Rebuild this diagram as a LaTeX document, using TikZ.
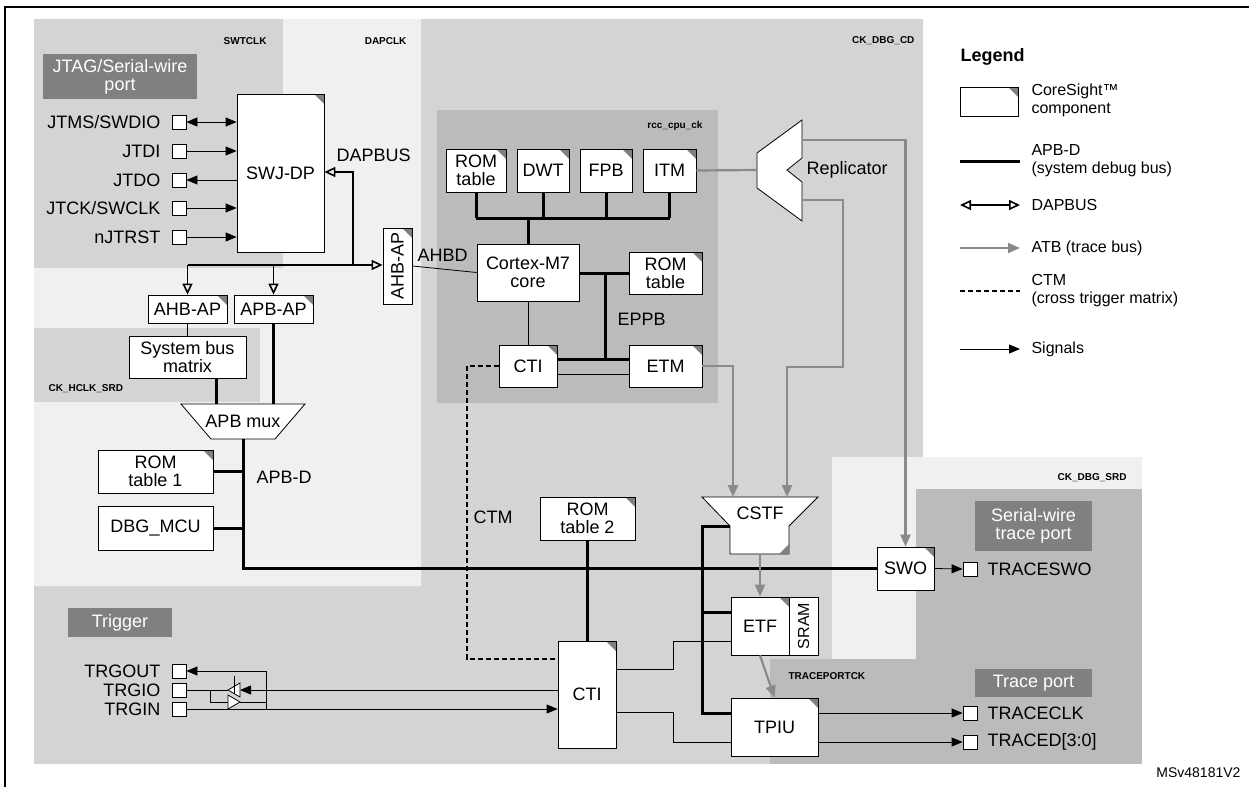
\documentclass[tikz,border=0pt]{standalone}
\usepackage{fontspec}
\setmainfont{Liberation Sans}
\usetikzlibrary{positioning, arrows.meta}
\definecolor{bgmid}{HTML}{D4D4D4}
\definecolor{bglight}{HTML}{F0F0F0}
\definecolor{bgdark}{HTML}{BBBBBB}
\definecolor{tagfill}{HTML}{808080}
\definecolor{atbgrey}{HTML}{8A8A8A}

\tikzset{
    cs/.style={draw, fill=white, thick, inner sep=0pt, align=center,
        path picture={\fill[gray] (path picture bounding box.north east) -- ++(-10pt,0pt) -- ++(10pt,-10pt) -- cycle;}},
    plain/.style={draw, fill=white, thick, inner sep=0pt, align=center},
    tag/.style={fill=tagfill, text=white, inner sep=0pt, align=center},
    port/.style={draw, fill=white, thick, minimum size=14pt, inner sep=0pt},
    clk/.style={font=\bfseries},
    apb/.style={line width=3pt},
    dap/.style={line width=1.6pt, -{Triangle[open, length=11pt, width=10pt]}},
    atb/.style={atbgrey, line width=2.2pt, -{Triangle[length=12pt, width=10pt]}},
    sig/.style={thick, -{Triangle[length=11pt, width=9pt]}},
    ctm/.style={line width=2.2pt, dash pattern=on 5pt off 3pt},
}

\begin{document}
\begin{tikzpicture}[x=1pt, y=-1pt, font=\fontsize{18}{18}\selectfont]
    \useasboundingbox (0,0) rectangle (1249,787);

    % clock domains
    \fill[bgmid] (421,19) -- (923,19) -- (923,457) -- (832,457) -- (832,659) -- (770,659)
        -- (770,764) -- (34,764) -- (34,586) -- (421,586) -- cycle;
    \fill[bgmid] (34,19) rectangle (283,268);
    \fill[bglight] (283,19) -- (421,19) -- (421,586) -- (34,586) -- (34,268) -- (283,268) -- cycle;
    \fill[bgmid] (34,328) rectangle (260,402);
    \fill[bgdark] (437,110) rectangle (718,403);
    \fill[bglight] (832,457) rectangle (1142,659);
    \fill[bgdark] (916,489) rectangle (1142,764);
    \fill[bgdark] (770,659) rectangle (1142,764);

    % frame
    \draw[line width=2pt] (5,787) -- (5,7) -- (1249,7);

    % domain labels
    \node[clk, anchor=east] (lswt) at (270,41) {SWTCLK};
    \node[clk, anchor=east] (ldap) at (410,41) {DAPCLK};
    \node[clk, anchor=east] (lcd) at (918,41) {CK\_DBG\_CD};
    \node[clk, anchor=east] (lrcc) at (706,126) {rcc\_cpu\_ck};
    \node[clk, anchor=west] (lhclk) at (45,389) {CK\_HCLK\_SRD};
    \node[clk, anchor=east] (lsrd) at (1130,478) {CK\_DBG\_SRD};
    \node[clk, anchor=west] (ltpck) at (785,676) {TRACEPORTCK};

    % port tags
    \node[tag, minimum width=154pt, minimum height=45pt] (tjtag) at (120,76.5) {JTAG/Serial-wire\\port};
    \node[tag, minimum width=104pt, minimum height=29pt] (ttrig) at (120,622.5) {Trigger};
    \node[tag, minimum width=117pt, minimum height=50pt] (tswtp) at (1033.5,526) {Serial-wire\\trace port};
    \node[tag, minimum width=117pt, minimum height=28pt] (ttp) at (1033.5,683) {Trace port};

    % debug port side
    \node[cs, minimum width=87pt, minimum height=158pt] (swjdp) at (280.5,173) {SWJ-DP};
    \foreach \n/\y/\t in {pms/122/JTMS\slash SWDIO, pdi/151/JTDI, pdo/180/JTDO, pck/208/JTCK\slash SWCLK, prst/237/nJTRST}
    {
        \node[port] (\n) at (179,\y) {};
        \node[anchor=east] (\n l) at (164,\y) {\t};
    }
    \draw[thick, {Triangle[length=11pt, width=9pt]}-{Triangle[length=11pt, width=9pt]}] (pms.east) -- (pms.east -| swjdp.west);
    \draw[sig] (pdi.east) -- (pdi.east -| swjdp.west);
    \draw[sig] (pdo.east -| swjdp.west) -- (pdo.east);
    \draw[sig] (pck.east) -- (pck.east -| swjdp.west);
    \draw[sig] (prst.east) -- (prst.east -| swjdp.west);

    \node[cs, minimum width=79pt, minimum height=28pt] (ahbap) at (187.5,309) {AHB-AP};
    \node[cs, minimum width=79pt, minimum height=28pt] (apbap) at (273.5,309) {APB-AP};
    \node[cs, minimum width=29pt, minimum height=76pt] (ahbapd) at (397.5,266) {\rotatebox{90}{AHB-AP}};
    \node[plain, minimum width=117pt, minimum height=42pt] (sysbus) at (187.5,357) {System bus\\matrix};

    % DAPBUS
    \coordinate (dapl) at (187.5,265);
    \coordinate (dapj) at (353,265);
    \draw[line width=1.6pt] (dapl) -- (dapj);
    \draw[dap] (dapj) -- (ahbapd.west |- dapj);
    \draw[dap] (dapj) |- (swjdp.east |- 0,172);
    \draw[dap] (dapl) -- (ahbap.north);
    \draw[dap] (apbap.north |- dapl) -- (apbap.north);
    \node[anchor=west] (ldapbus) at (333,155) {DAPBUS};
    \draw[thick] (ahbap.south) -- (sysbus.north);

    % APB mux and APB-D
    \draw[thick, fill=white] (181,404) -- (305,404) -- (275,439) -- (211,439) -- cycle;
    \node (apbmux) at (243,421) {APB mux};
    \draw[apb] (216,378) -- (216,404);
    \draw[apb] (apbap.south) -- (273.5,404);
    \node[cs, minimum width=115pt, minimum height=43pt] (rom1) at (155.5,471.5) {ROM\\table 1};
    \node[plain, minimum width=115pt, minimum height=44pt] (dbgmcu) at (155.5,528) {DBG\_MCU};
    \node[cs, minimum width=57pt, minimum height=43pt] (swo) at (905.5,568.5) {SWO};
    \draw[apb] (243,439) |- (swo.west);
    \draw[apb] (rom1.east) -- (243,471.5);
    \draw[apb] (dbgmcu.east) -- (243,528);
    \node[anchor=west] (lapbd) at (253,477) {APB-D};

    % processor
    \foreach \n/\x/\w/\t in {romc/476/60/ROM\\table, dwt/543/52/DWT, fpb/606/52/FPB, itm/669.5/53/ITM}
    {
        \node[cs, minimum width=\w pt, minimum height=43pt] (\n) at (\x,170.5) {\t};
        \draw[apb] (\n.south) -- (\x,218);
    }
    \draw[apb] (476,218) -- (669.5,218);
    \node[plain, minimum width=102pt, minimum height=57pt] (core) at (528,272.5) {Cortex-M7\\core};
    \draw[apb] (528,218) -- (core.north);
    \draw[thick] (ahbapd.east) -- (core.west);
    \node[anchor=west] (lahbd) at (414,255) {AHBD};
    \node[cs, minimum width=73pt, minimum height=42pt] (romt) at (665.5,273) {ROM\\table};
    \node[cs, minimum width=58pt, minimum height=42pt] (ctic) at (528,366) {CTI};
    \node[cs, minimum width=73pt, minimum height=42pt] (etm) at (665.5,366) {ETM};
    \draw[apb] (core.east |- romt.west) -- (romt.west);
    \draw[apb] (605,273) -- (605,359);
    \draw[apb] (ctic.east |- 0,359) -- (etm.west |- 0,359);
    \draw[thick] (ctic.east |- 0,374) -- (etm.west |- 0,374);
    \draw[thick] (core.south) -- (ctic.north);
    \node[anchor=west] (leppb) at (614,319) {EPPB};

    % trace
    \draw[thick, fill=white] (802,120) -- (757,153) -- (757,188) -- (802,221) -- (802,182)
        -- (787,170) -- (802,158) -- cycle;
    \node[anchor=west] (repl) at (803,170) {Replicator};
    \draw[atbgrey, line width=2.2pt] (itm.east) -- (757,170);
    \node[cs, minimum width=87pt, minimum height=58pt] (tpiu) at (774.5,727) {TPIU};
    \node[cs, minimum width=58pt, minimum height=58pt] (etf) at (760,626) {ETF};
    \node[plain, minimum width=29pt, minimum height=58pt, font=\fontsize{16}{16}\selectfont] (sram) at (803.5,626) {\rotatebox{90}{SRAM}};
    \draw[thick, fill=white] (702,497) -- (818,497) -- (789,526) -- (789,554) -- (730,554) -- (730,526) -- cycle;
    \fill[gray] (789,554) -- (779,554) -- (789,544) -- cycle;
    \node (cstf) at (760,513) {CSTF};
    \draw[atb] (802,140) -| (swo.north);
    \draw[atb] (802,200) -- (843,200) -- (843,367) -- (787,367) -- (787,497);
    \draw[atb] (etm.east) -| (733,497);
    \draw[atb] (760,554) -- (etf.north);
    \draw[atb] (etf.south) -- (tpiu.north);
    \draw[apb] (730,526) -- (702,526) |- (731,713);
    \draw[apb] (702,612) -- (etf.west |- 0,612);

    % cross trigger
    \node[cs, minimum width=95pt, minimum height=43pt] (rom2) at (587.5,518.5) {ROM\\table 2};
    \node[cs, minimum width=58pt, minimum height=107pt] (ctib) at (587,694.5) {CTI};
    \draw[apb] (rom2.south) -- (ctib.north -| rom2.south);
    \draw[ctm] (ctic.west) -| (467,659) -- (ctib.west |- 0,659);
    \node[anchor=west] (lctm) at (470,517) {CTM};
    \draw[thick] (ctib.east |- 0,669) -- (673,669) |- (etf.west |- 0,641);
    \draw[thick] (ctib.east |- 0,712) -- (673,712) |- (tpiu.west |- 0,742);

    % output ports
    \foreach \n/\y/\t in {pswo/569/TRACESWO, ptclk/713/TRACECLK, ptd/742/TRACED[3:0]}
    {
        \node[port] (\n) at (970,\y) {};
        \node[anchor=west] (\n l) at (984,\y) {\t};
    }
    \draw[sig] (swo.east) -- (pswo.west);
    \draw[sig] (tpiu.east |- ptclk) -- (ptclk.west);
    \draw[sig] (tpiu.east |- ptd) -- (ptd.west);

    % trigger pins
    \foreach \n/\y/\t in {pto/671/TRGOUT, ptio/690/TRGIO, pti/709/TRGIN}
    {
        \node[port] (\n) at (179,\y) {};
        \node[anchor=west, anchor=east] (\n l) at (164,\y) {\t};
    }
    \draw[sig] (pti.east) -- (ctib.west |- pti);
    \draw[sig] (266,709) |- (pto.east);
    \draw[sig] (ctib.west |- ptio) -- (240,690);
    \draw[thick, fill=white] (240,683) -- (240,697) -- (228,690) -- cycle;
    \draw[thick] (234,676) -- (234,694);
    \draw[thick] (228,690) -- (ptio.east);
    \draw[thick] (210,690) |- (228,702);
    \draw[thick, fill=white] (228,695) -- (228,709) -- (240,702) -- cycle;
    \draw[thick] (240,702) -| (266,709);

    % legend
    \node[font=\fontsize{18}{18}\selectfont\bfseries, anchor=west] (leg) at (957,57) {Legend};
    \node[cs, minimum width=58pt, minimum height=29pt] (lgcs) at (989,101.5) {};
    \node[anchor=west, align=left, font=\fontsize{16}{18}\selectfont] (lgcst) at (1028,100) {CoreSight™\\component};
    \draw[apb] (960,161) -- (1020,161);
    \node[anchor=west, align=left, font=\fontsize{16}{18}\selectfont] (lgapb) at (1028,161) {APB-D\\(system debug bus)};
    \draw[line width=1.6pt, {Triangle[open, length=11pt, width=10pt]}-{Triangle[open, length=11pt, width=10pt]}] (960,205) -- (1020,205);
    \node[anchor=west, font=\fontsize{16}{18}\selectfont] (lgdap) at (1028,205) {DAPBUS};
    \draw[atb] (960,248) -- (1020,248);
    \node[anchor=west, font=\fontsize{16}{18}\selectfont] (lgatb) at (1028,248) {ATB (trace bus)};
    \draw[ctm, line width=1.8pt] (960,291) -- (1020,291);
    \node[anchor=west, align=left, font=\fontsize{16}{18}\selectfont] (lgctm) at (1028,291) {CTM\\(cross trigger matrix)};
    \draw[sig] (960,349) -- (1020,349);
    \node[anchor=west, font=\fontsize{16}{18}\selectfont] (lgsig) at (1028,349) {Signals};

    \node[anchor=east, font=\fontsize{14}{14}\selectfont] (ref) at (1244,773) {MSv48181V2};
\end{tikzpicture}
\end{document}
